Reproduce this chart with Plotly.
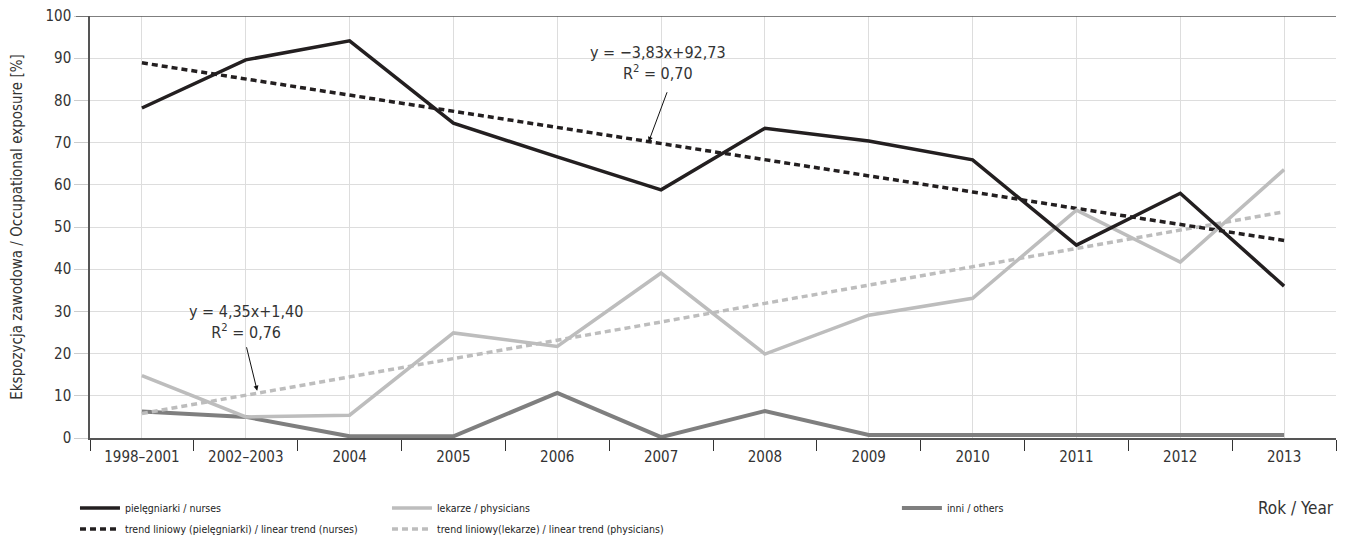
import plotly.graph_objects as go

categories = ["1998–2001", "2002–2003", "2004", "2005", "2006", "2007",
              "2008", "2009", "2010", "2011", "2012", "2013"]
nurses = [78.2, 89.6, 94.1, 74.6, 66.6, 58.8, 73.4, 70.4, 65.9, 45.7, 58.0, 36.0]
physicians = [14.8, 5.0, 5.4, 24.9, 21.7, 39.1, 19.9, 29.1, 33.1, 54.0, 41.7, 63.6]
others = [6.3, 5.0, 0.4, 0.4, 10.7, 0.2, 6.4, 0.7, 0.7, 0.7, 0.7, 0.7]
trend_nurses = [88.9, 85.1, 81.2, 77.4, 73.6, 69.8, 65.9, 62.1, 58.3, 54.4, 50.6, 46.8]
trend_physicians = [5.8, 10.1, 14.5, 18.8, 23.2, 27.5, 31.9, 36.2, 40.6, 44.9, 49.3, 53.6]

xs = list(range(len(categories)))

FONT = "DejaVu Sans Condensed, Roboto, sans-serif"
BLACK = "#231f20"
LIGHT = "#bdbdbd"
MID = "#7f7f7f"

fig = go.Figure()
fig.add_trace(go.Scatter(x=xs, y=others, mode="lines", name="inni / others",
                         line=dict(color=MID, width=4), legend="legend3"))
fig.add_trace(go.Scatter(x=xs, y=trend_physicians, mode="lines",
                         name="trend liniowy(lekarze) / linear trend (physicians)",
                         line=dict(color=LIGHT, width=3.5, dash="6px,4px"), legend="legend2"))
fig.add_trace(go.Scatter(x=xs, y=trend_nurses, mode="lines",
                         name="trend liniowy (pielęgniarki) / linear trend (nurses)",
                         line=dict(color=BLACK, width=3.5, dash="6px,4px"), legend="legend2"))
fig.add_trace(go.Scatter(x=xs, y=physicians, mode="lines", name="lekarze / physicians",
                         line=dict(color=LIGHT, width=3.5), legend="legend"))
fig.add_trace(go.Scatter(x=xs, y=nurses, mode="lines", name="pielęgniarki / nurses",
                         line=dict(color=BLACK, width=3.5), legend="legend"))

legend_common = dict(orientation="h", font=dict(family=FONT, size=10.5, color="#222"),
                     entrywidth=257, entrywidthmode="pixels", xanchor="left",
                     yanchor="middle", xref="container", yref="container",
                     bgcolor="rgba(0,0,0,0)", traceorder="reversed",
                     itemwidth=40, tracegroupgap=0)

fig.update_layout(
    width=1353, height=538,
    margin=dict(l=82, r=25, t=8, b=108),
    paper_bgcolor="white", plot_bgcolor="white",
    font=dict(family=FONT, size=15, color="#333"),
    showlegend=True,
    legend=dict(x=0.0495, y=0.0706, **legend_common),
    legend2=dict(x=0.0495, y=0.0316, **legend_common),
    legend3=dict(x=0.657, y=0.0706, **legend_common),
    xaxis=dict(range=[-0.5, 11.5], tickvals=xs, ticktext=categories,
               showgrid=True, gridcolor="#dddddd", gridwidth=1,
               showline=True, linecolor="#555", linewidth=1.5,
               ticks="", zeroline=False, automargin=False, ticklabelstandoff=4,
               tickfont=dict(family=FONT, size=15, color="#333"),
               minor=dict(tick0=-0.5, dtick=1, ticks="outside", ticklen=11,
                          tickcolor="#333", tickwidth=1.2, showgrid=False)),
    yaxis=dict(range=[0, 100], dtick=10, showgrid=True, gridcolor="#dddddd",
               gridwidth=1, showline=True, linecolor="#555", linewidth=1.5,
               ticks="outside", ticklen=14, tickcolor="#cccccc", zeroline=False,
               automargin=False, ticklabeloverflow="allow",
               tickfont=dict(family=FONT, size=15, color="#333"),
               title=dict(text="Ekspozycja zawodowa / Occupational exposure [%]",
                          font=dict(family=FONT, size=15, color="#333"), standoff=25)),
)

fig.add_shape(type="line", xref="paper", yref="y", x0=-14 / 1246, x1=1, y0=100, y1=100,
              line=dict(color="#555", width=1.5))

fig.add_annotation(x=4.97, y=88.8, xref="x", yref="y", showarrow=False,
                   text="y = −3,83x+92,73<br>R<sup>2</sup> = 0,70",
                   font=dict(family=FONT, size=16, color="#333"))
fig.add_annotation(x=4.88, y=70.2, xref="x", yref="y", text="", showarrow=True,
                   ax=19, ay=-51, arrowhead=2, arrowsize=1, arrowwidth=1, arrowcolor="#111")
fig.add_annotation(x=1.0, y=27.6, xref="x", yref="y", showarrow=False,
                   text="y = 4,35x+1,40<br>R<sup>2</sup> = 0,76",
                   font=dict(family=FONT, size=16, color="#333"))
fig.add_annotation(x=1.11, y=11.2, xref="x", yref="y", text="", showarrow=True,
                   ax=-11, ay=-45, arrowhead=2, arrowsize=1, arrowwidth=1, arrowcolor="#111")
fig.add_annotation(x=1, y=-0.166, xref="paper", yref="paper", xanchor="right",
                   yanchor="middle", showarrow=False, text="Rok / Year",
                   font=dict(family=FONT, size=17, color="#333"))

fig.write_html("out.html")
